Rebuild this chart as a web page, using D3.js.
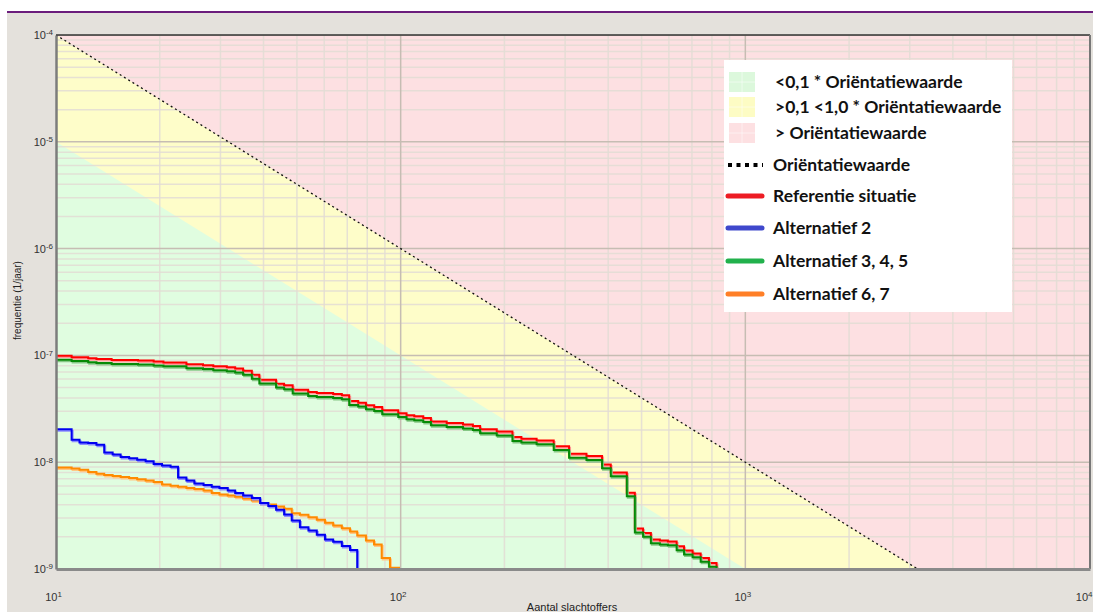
<!DOCTYPE html>
<meta charset="utf-8">
<script src="https://d3js.org/d3.v7.min.js"></script>
<style>
  body { margin: 0; background: #fff; }
  svg { display: block; font-family: "Liberation Sans", Arial, sans-serif; }
  .legend text { font-family: Lato, "Noto Sans", sans-serif; font-weight: bold; font-size: 17.5px; fill: #111; }
</style>
<div id="chart"></div>
<script>
// ---- data ----
// Referentie situatie and Alternatief 3, 4, 5 share the same steps in N
var refN = [10, 11.1, 12.4, 13.1, 14.5, 17.3, 19.2, 20.5, 23.9, 26.7, 28.6, 31.3, 33.1, 34.9, 37.0, 38.9, 43.5, 45.9, 48.6, 53.9,
            57.1, 63.7, 67.5, 70.9, 75.3, 79.3, 83.8, 88.4, 98.4, 104, 109.5, 116.3, 122.4, 136, 151.6, 162, 170, 190, 211, 224,
            248, 278, 308, 346, 384, 407, 453, 478, 505, 532, 565, 596, 632, 664, 703, 742, 784, 825];
var refF = [9.9e-8, 9.6e-8, 9.4e-8, 9.25e-8, 9.05e-8, 8.94e-8, 8.75e-8, 8.56e-8, 8.25e-8, 8.08e-8, 7.9e-8, 7.74e-8, 7.52e-8, 7.2e-8, 6.6e-8,
            5.93e-8, 5.44e-8, 5.25e-8, 4.78e-8, 4.54e-8, 4.44e-8, 4.35e-8, 4.23e-8, 3.74e-8, 3.61e-8, 3.41e-8, 3.28e-8, 3.06e-8, 2.88e-8, 2.75e-8,
            2.69e-8, 2.59e-8, 2.41e-8, 2.33e-8, 2.25e-8, 2.18e-8, 2.03e-8, 1.94e-8, 1.72e-8, 1.66e-8, 1.6e-8, 1.41e-8, 1.2e-8, 1.14e-8, 9.54e-9,
            8.03e-9, 5.18e-9, 2.4e-9, 2.17e-9, 1.89e-9, 1.85e-9, 1.81e-9, 1.63e-9, 1.49e-9, 1.40e-9, 1.27e-9, 1.14e-9, 1e-9];
var alt345F = [9.1e-8, 8.85e-8, 8.65e-8, 8.5e-8, 8.3e-8, 8.2e-8, 8.05e-8, 7.9e-8, 7.6e-8, 7.45e-8, 7.25e-8, 7.1e-8, 6.9e-8, 6.6e-8, 6.05e-8,
               5.45e-8, 5.0e-8, 4.82e-8, 4.4e-8, 4.17e-8, 4.08e-8, 4.0e-8, 3.89e-8, 3.44e-8, 3.32e-8, 3.14e-8, 3.02e-8, 2.81e-8, 2.65e-8, 2.53e-8,
               2.47e-8, 2.38e-8, 2.22e-8, 2.14e-8, 2.07e-8, 2.0e-8, 1.87e-8, 1.78e-8, 1.58e-8, 1.53e-8, 1.47e-8, 1.3e-8, 1.1e-8, 1.05e-8, 8.8e-9,
               7.4e-9, 4.8e-9, 2.2e-9, 2.0e-9, 1.74e-9, 1.7e-9, 1.67e-9, 1.5e-9, 1.37e-9, 1.29e-9, 1.17e-9, 1.05e-9, 1e-9];

var alt2N = [10, 11.1, 11.7, 12.4, 13.1, 13.8, 14.6, 15.4, 16.3, 17.2, 18.2, 19.2, 20.3, 21.5, 22.6, 23.9, 25.2, 26.8, 28.3, 29.8,
             31.5, 33.1, 34.9, 37.0, 39.1, 41.3, 43.5, 45.9, 48.3, 51.0, 54.0, 57.1, 60.3, 63.7, 67.5, 71.3, 74.8, 79.3];
var alt2F = [2.03e-8, 1.62e-8, 1.53e-8, 1.51e-8, 1.46e-8, 1.23e-8, 1.18e-8, 1.12e-8, 1.09e-8, 1.055e-8, 1.02e-8, 9.6e-9, 9.33e-9, 9.07e-9, 7.2e-9,
             6.75e-9, 6.33e-9, 6.13e-9, 5.9e-9, 5.72e-9, 5.44e-9, 5.16e-9, 4.89e-9, 4.63e-9, 4.15e-9, 3.88e-9, 3.59e-9, 3.24e-9, 2.85e-9, 2.46e-9,
             2.29e-9, 2.09e-9, 1.89e-9, 1.8e-9, 1.64e-9, 1.51e-9, 1e-9, 1e-9];

var alt67N = [10, 11.1, 11.7, 12.4, 13.1, 13.8, 14.6, 15.4, 16.3, 17.2, 18.2, 19.2, 20.3, 21.5, 22.6, 23.9, 25.2, 26.8, 28.3, 29.8,
              31.5, 33.1, 34.9, 37.0, 39.1, 41.3, 43.5, 45.9, 48.3, 51.0, 54.0, 57.1, 60.3, 63.7, 67.5, 71.3, 74.8, 79.3, 83.7, 88.1, 93.1, 98.9];
var alt67F = [8.94e-9, 8.75e-9, 8.5e-9, 8.08e-9, 7.8e-9, 7.57e-9, 7.41e-9, 7.25e-9, 7.1e-9, 6.94e-9, 6.75e-9, 6.51e-9, 6.19e-9, 6.02e-9, 5.9e-9,
              5.72e-9, 5.6e-9, 5.44e-9, 5.16e-9, 4.99e-9, 4.89e-9, 4.75e-9, 4.58e-9, 4.39e-9, 4.15e-9, 4.02e-9, 3.85e-9, 3.67e-9, 3.33e-9, 3.22e-9,
              3.06e-9, 2.89e-9, 2.71e-9, 2.56e-9, 2.41e-9, 2.25e-9, 2.06e-9, 1.85e-9, 1.7e-9, 1.27e-9, 1.03e-9, 1e-9];

// orientatiewaarde (F * N^2 = 1e-2) and 0,1 * orientatiewaarde
var orientN = [10, 3162.3], orientF = [1e-4, 1e-9];
var tiendeN = [10, 1000],   tiendeF = [1e-5, 1e-9];

var xTickExp = [1, 2, 3, 4];
var yTickExp = [-4, -5, -6, -7, -8, -9];
var legendLabels = ["<0,1 * Oriëntatiewaarde", ">0,1 <1,0 * Oriëntatiewaarde", "> Oriëntatiewaarde",
                    "Oriëntatiewaarde", "Referentie situatie", "Alternatief 2", "Alternatief 3, 4, 5", "Alternatief 6, 7"];

// ---- layout ----
var W = 1093, H = 612;
var L = 56, R = 1090, T = 35, B = 569;

var svg = d3.select("#chart").append("svg").attr("width", W).attr("height", H);

// window background + purple top rule
svg.append("rect").attr("x", 7).attr("y", 13).attr("width", W - 7).attr("height", H - 13).attr("fill", "#e4e1dc");
svg.append("line").attr("x1", 7).attr("x2", W).attr("y1", 12).attr("y2", 12)
  .attr("stroke", "#6b1d7c").attr("stroke-width", 2);

var x = d3.scaleLog().domain([10, 10000]).range([L, R]);
var y = d3.scaleLog().domain([1e-9, 1e-4]).range([B, T]);

svg.append("clipPath").attr("id", "plot").append("rect")
  .attr("x", L).attr("y", T).attr("width", R - L).attr("height", B - T);
var g = svg.append("g").attr("clip-path", "url(#plot)");

// zones
g.append("rect").attr("x", L).attr("y", T).attr("width", R - L).attr("height", B - T).attr("fill", "#fde0e2");
g.append("path").attr("fill", "#fefdc9")
  .attr("d", "M" + x(orientN[0]) + "," + y(orientF[0]) + "L" + x(orientN[1]) + "," + y(orientF[1]) +
             "L" + x(10) + "," + y(1e-9) + "Z");
g.append("path").attr("fill", "#e0fde0")
  .attr("d", "M" + x(tiendeN[0]) + "," + y(tiendeF[0]) + "L" + x(tiendeN[1]) + "," + y(tiendeF[1]) +
             "L" + x(10) + "," + y(1e-9) + "Z");

// grid
var minorX = [], minorY = [];
[10, 100, 1000].forEach(function(d) { for (var k = 2; k < 10; k++) minorX.push(d * k); });
[1e-9, 1e-8, 1e-7, 1e-6, 1e-5].forEach(function(d) { for (var k = 2; k < 10; k++) minorY.push(d * k); });

g.selectAll(".vminor").data(minorX).enter().append("line")
  .attr("x1", d => x(d)).attr("x2", d => x(d)).attr("y1", T).attr("y2", B)
  .attr("stroke", "#e3ddd5").attr("stroke-width", 1.5).attr("opacity", 0.85);
g.selectAll(".hminor").data(minorY).enter().append("line")
  .attr("y1", d => y(d)).attr("y2", d => y(d)).attr("x1", L).attr("x2", R)
  .attr("stroke", "#e3ddd5").attr("stroke-width", 1.5).attr("opacity", 0.85);
g.selectAll(".vmajor").data(xTickExp).enter().append("line")
  .attr("x1", d => x(Math.pow(10, d))).attr("x2", d => x(Math.pow(10, d))).attr("y1", T).attr("y2", B)
  .attr("stroke", "#c6bdb3").attr("stroke-width", 1.5);
g.selectAll(".hmajor").data(yTickExp).enter().append("line")
  .attr("y1", d => y(Math.pow(10, d))).attr("y2", d => y(Math.pow(10, d))).attr("x1", L).attr("x2", R)
  .attr("stroke", "#c6bdb3").attr("stroke-width", 1.5);

// orientatiewaarde dotted line
g.append("path")
  .datum(d3.zip(orientN, orientF))
  .attr("fill", "none").attr("stroke", "#111").attr("stroke-width", 1.3).attr("stroke-dasharray", "2,3")
  .attr("d", d3.line().x(d => x(d[0])).y(d => y(d[1])));

// step curves
var step = d3.line().x(d => x(d[0])).y(d => y(d[1])).curve(d3.curveStepAfter);
var series = [
  { pts: d3.zip(alt67N, alt67F), color: "#ff8a00", halo: "#ffc784" },
  { pts: d3.zip(alt2N, alt2F),   color: "#0000f0", halo: "#8c8cff" },
  { pts: d3.zip(refN, refF),     color: "#ff0000", halo: "#ff9a9a" },
  { pts: d3.zip(refN, alt345F),  color: "#068a06", halo: "#86c886" }
];
series.forEach(function(s) {
  g.append("path").datum(s.pts).attr("fill", "none").attr("stroke", s.halo).attr("stroke-width", 2)
    .attr("transform", "translate(1,1.5)").attr("d", step);
  g.append("path").datum(s.pts).attr("fill", "none").attr("stroke", s.color).attr("stroke-width", 2)
    .attr("d", step);
});

// frame
svg.append("line").attr("x1", L).attr("x2", R).attr("y1", T).attr("y2", T).attr("stroke", "#333").attr("stroke-width", 1.5);
svg.append("line").attr("x1", R).attr("x2", R).attr("y1", T).attr("y2", B).attr("stroke", "#777").attr("stroke-width", 2);

// axes
function sup(sel) {
  sel.selectAll(".tick text").each(function(d) {
    var t = d3.select(this).text("");
    t.append("tspan").text("10");
    t.append("tspan").attr("dy", "-0.45em").attr("font-size", "8px").text(Math.round(Math.log10(d)));
  });
}
var xAxis = svg.append("g").attr("transform", "translate(0," + B + ")")
  .call(d3.axisBottom(x).tickValues(xTickExp.map(e => Math.pow(10, e))).tickSize(0).tickPadding(24));
xAxis.select(".domain").attr("stroke", "#8a8a8a").attr("stroke-width", 3);
xAxis.selectAll(".tick text").attr("font-size", "11px").attr("fill", "#333").attr("dx", "-3");
sup(xAxis);
// last label sits against the right edge of the window
xAxis.selectAll(".tick text").filter(d => d === 10000).attr("text-anchor", "end").attr("dx", "2");

var yAxis = svg.append("g").attr("transform", "translate(" + L + ",0)")
  .call(d3.axisLeft(y).tickValues(yTickExp.map(e => Math.pow(10, e))).tickSize(0).tickPadding(3));
yAxis.select(".domain").attr("stroke", "#7c7c7c").attr("stroke-width", 2.5);
yAxis.selectAll(".tick text").attr("font-size", "11px").attr("fill", "#333");
sup(yAxis);

svg.append("text").attr("transform", "translate(21,340) rotate(-90)")
  .attr("font-size", "10px").attr("fill", "#222").text("frequentie (1/jaar)");
svg.append("text").attr("x", 572).attr("y", 611).attr("text-anchor", "middle")
  .attr("font-size", "11px").attr("fill", "#222").text("Aantal slachtoffers");

// legend
var leg = svg.append("g").attr("class", "legend");
leg.append("rect").attr("x", 724).attr("y", 60).attr("width", 288).attr("height", 252).attr("fill", "#fff");
var legY = [82, 107, 133, 165, 196, 228, 261, 294];
var swatch = ["#dcf8dc", "#fdfcc4", "#fde0e2"];
var lineCol = ["#ed1c24", "#3f48cc", "#22b14c", "#ff7f27"];
legendLabels.forEach(function(lab, i) {
  var cy = legY[i];
  if (i < 3) {
    leg.append("rect").attr("x", 729).attr("y", cy - 10).attr("width", 26).attr("height", 20).attr("fill", swatch[i]);
    leg.append("line").attr("x1", 729).attr("x2", 755).attr("y1", cy).attr("y2", cy).attr("stroke", "#fff").attr("opacity", 0.5);
    leg.append("line").attr("x1", 742).attr("x2", 742).attr("y1", cy - 10).attr("y2", cy + 10).attr("stroke", "#fff").attr("opacity", 0.5);
  } else if (i === 3) {
    leg.append("line").attr("x1", 728).attr("x2", 763).attr("y1", cy).attr("y2", cy)
      .attr("stroke", "#000").attr("stroke-width", 4).attr("stroke-dasharray", "4,4.5");
  } else {
    leg.append("line").attr("x1", 728).attr("x2", 762).attr("y1", cy).attr("y2", cy)
      .attr("stroke", lineCol[i - 4]).attr("stroke-width", 5).attr("stroke-linecap", "round");
  }
  leg.append("text").attr("x", i < 3 ? 775 : 773).attr("y", cy + 6).text(lab);
});
</script>
